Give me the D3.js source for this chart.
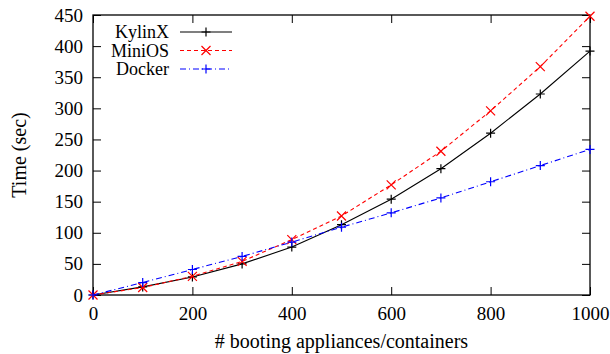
<!DOCTYPE html>
<html>
<head>
<meta charset="utf-8">
<script src="https://cdn.jsdelivr.net/npm/d3@7"></script>
<style>
  body { margin: 0; background: #fff; }
  svg text { font-family: "Liberation Serif", "DejaVu Serif", serif; }
</style>
</head>
<body>
<svg id="chart" width="610" height="354"></svg>
<script>
const counts = [0, 100, 200, 300, 400, 500, 600, 700, 800, 900, 1000];
const kylinx = [0, 13, 29, 50, 77, 113, 154, 203, 260, 323, 392];
const minios = [0, 12, 30, 54, 89, 127, 177, 231, 296, 367, 448];
const docker = [0, 20, 41, 62, 85, 109, 132, 156, 182, 208, 234];
const xTicks = [0, 200, 400, 600, 800, 1000];
const yTicks = [0, 50, 100, 150, 200, 250, 300, 350, 400, 450];

const series = [
  { name: 'KylinX', values: kylinx, color: '#000000', dash: null, marker: 'plus' },
  { name: 'MiniOS', values: minios, color: '#ff0000', dash: '4,3', marker: 'cross' },
  { name: 'Docker', values: docker, color: '#0000ff', dash: '6,3,1,3', marker: 'plus' }
];

const margin = { top: 15, right: 20, bottom: 59, left: 93 };
const width = 610 - margin.left - margin.right;
const height = 354 - margin.top - margin.bottom;
const font = '"Liberation Serif", "DejaVu Serif", serif';

const svg = d3.select('svg#chart')
  .append('g')
  .attr('transform', `translate(${margin.left},${margin.top})`);

const x = d3.scaleLinear().domain([0, 1000]).range([0, width]);
const y = d3.scaleLinear().domain([0, 450]).range([height, 0]);

const tickLen = 8;

// ticks drawn inward on all four sides
svg.append('g')
  .attr('transform', `translate(0,${height})`)
  .call(d3.axisBottom(x).tickValues(xTicks).tickSize(-tickLen).tickPadding(12).tickFormat(d3.format('d')))
  .call(g => g.select('.domain').remove());
svg.append('g')
  .call(d3.axisTop(x).tickValues(xTicks).tickSize(-tickLen).tickFormat(''))
  .call(g => g.select('.domain').remove());
svg.append('g')
  .call(d3.axisLeft(y).tickValues(yTicks).tickSize(-tickLen).tickPadding(10))
  .call(g => g.select('.domain').remove());
svg.append('g')
  .attr('transform', `translate(${width},0)`)
  .call(d3.axisRight(y).tickValues(yTicks).tickSize(-tickLen).tickFormat(''))
  .call(g => g.select('.domain').remove());

svg.selectAll('g.tick text')
  .attr('font-family', font)
  .attr('font-size', 19)
  .attr('fill', '#000');
svg.selectAll('.tick line').attr('stroke', '#000');

svg.append('rect')
  .attr('width', width)
  .attr('height', height)
  .attr('fill', 'none')
  .attr('stroke', '#000')
  .attr('stroke-width', 1.3);

const line = d3.line()
  .x((d, i) => x(counts[i]))
  .y(d => y(d));

function drawMarker(g, type, cx, cy, color) {
  const s = 4.5;
  if (type === 'plus') {
    g.append('path')
      .attr('d', `M${cx - s},${cy}H${cx + s}M${cx},${cy - s}V${cy + s}`)
      .attr('stroke', color).attr('stroke-width', 1.2).attr('fill', 'none');
  } else {
    g.append('path')
      .attr('d', `M${cx - s},${cy - s}L${cx + s},${cy + s}M${cx - s},${cy + s}L${cx + s},${cy - s}`)
      .attr('stroke', color).attr('stroke-width', 1.2).attr('fill', 'none');
  }
}

series.forEach(s => {
  svg.append('path')
    .datum(s.values)
    .attr('d', line)
    .attr('fill', 'none')
    .attr('stroke', s.color)
    .attr('stroke-width', 1.1)
    .attr('stroke-dasharray', s.dash);
  const mg = svg.append('g');
  s.values.forEach((v, i) => drawMarker(mg, s.marker, x(counts[i]), y(v), s.color));
});

// legend
const legend = svg.append('g');
series.forEach((s, i) => {
  const ly = 17 + i * 18.5;
  legend.append('text')
    .attr('x', 76)
    .attr('y', ly)
    .attr('dy', '0.35em')
    .attr('text-anchor', 'end')
    .attr('font-family', font)
    .attr('font-size', 18)
    .text(s.name);
  legend.append('line')
    .attr('x1', 87).attr('x2', 139)
    .attr('y1', ly).attr('y2', ly)
    .attr('stroke', s.color)
    .attr('stroke-width', 1.1)
    .attr('stroke-dasharray', s.dash);
  drawMarker(legend, s.marker, 113, ly, s.color);
});

// axis titles
svg.append('text')
  .attr('x', width / 2)
  .attr('y', height + 53)
  .attr('text-anchor', 'middle')
  .attr('font-family', font)
  .attr('font-size', 20)
  .text('# booting appliances/containers');

svg.append('text')
  .attr('transform', `translate(${-67},${height / 2}) rotate(-90)`)
  .attr('text-anchor', 'middle')
  .attr('font-family', font)
  .attr('font-size', 20)
  .text('Time (sec)');
</script>
</body>
</html>
